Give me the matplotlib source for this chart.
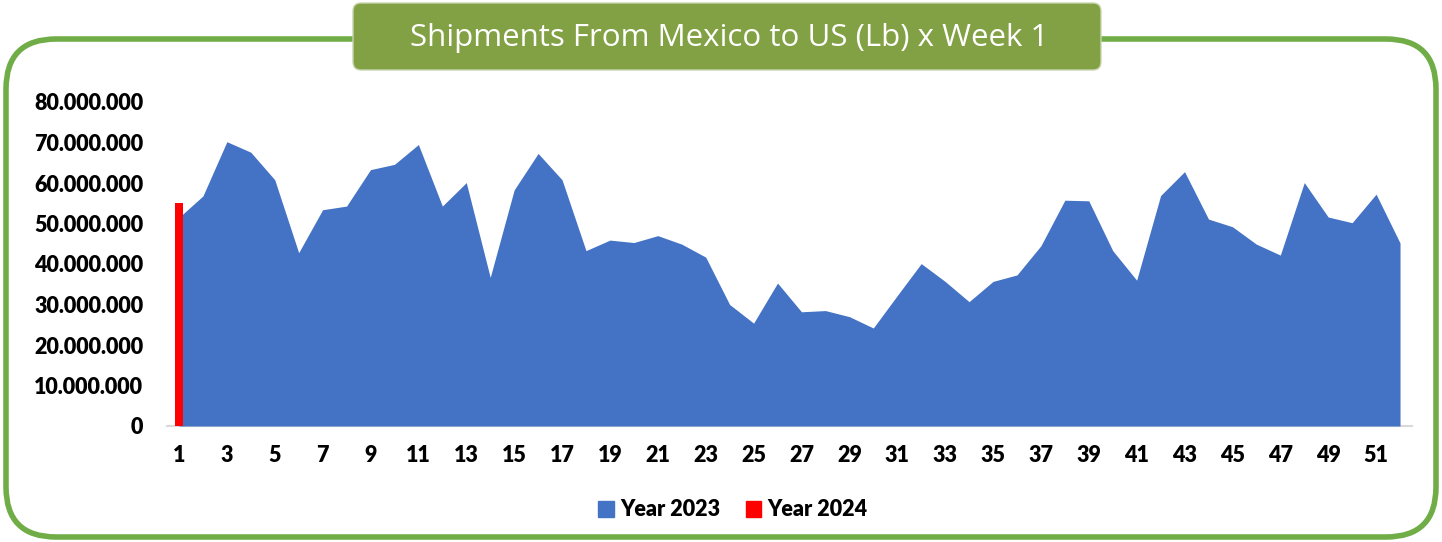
import matplotlib
matplotlib.use('Agg')
import matplotlib.pyplot as plt
from matplotlib.patches import FancyBboxPatch, Patch
from matplotlib.ticker import FuncFormatter

# Weekly shipments (Lb)
weeks = list(range(1, 53))
year_2023 = [51.5, 56.8, 70.2, 67.6, 60.8, 42.8, 53.4, 54.3, 63.3, 64.6,
             69.5, 54.3, 60.1, 36.7, 58.3, 67.3, 60.8, 43.3, 45.9, 45.3,
             47.0, 44.9, 41.7, 30.0, 25.4, 35.3, 28.2, 28.5, 27.0, 24.2,
             32.2, 40.1, 35.7, 30.7, 35.7, 37.3, 44.5, 55.75, 55.6, 43.3,
             36.0, 56.9, 62.8, 51.1, 49.2, 44.9, 42.2, 60.1, 51.6, 50.2,
             57.25, 45.2]
year_2023 = [v * 1e6 for v in year_2023]
weeks_2024 = [1]
year_2024 = [55.1e6]
tick_weeks = list(range(1, 52, 2))
y_ticks = [0, 10e6, 20e6, 30e6, 40e6, 50e6, 60e6, 70e6, 80e6]

title = 'Shipments From Mexico to US (Lb) x Week 1'
blue = '#4472C4'
red = '#FF0000'
green = '#70AD47'
title_green = '#82A044'

W, H = 1442, 542
fig = plt.figure(figsize=(W / 100, H / 100), dpi=100)

# background frame in pixel coordinates
bg = fig.add_axes([0, 0, 1, 1], zorder=0)
bg.set_xlim(0, W)
bg.set_ylim(H, 0)
bg.axis('off')
frame = FancyBboxPatch((6, 39), W - 12, H - 44, boxstyle='round,pad=0,rounding_size=50',
                       fill=False, edgecolor=green, linewidth=4)
bg.add_patch(frame)
title_box = FancyBboxPatch((353, 3), 748, 67, boxstyle='round,pad=0,rounding_size=8',
                           facecolor=title_green, edgecolor='#C9D6B0', linewidth=1)
bg.add_patch(title_box)
bg.text(729, 38, title, color='white', fontsize=22.5, family=['Open Sans', 'DejaVu Sans'],
        ha='center', va='center')

# chart
ax = fig.add_axes([167 / W, 1 - 426 / H, (1412 - 167) / W, (426 - 102) / H], zorder=1)
ax.patch.set_alpha(0)
ax.fill_between(weeks, 0, year_2023, color=blue, linewidth=0, zorder=2)
ax.bar(weeks_2024, year_2024, width=0.34, color=red, zorder=3)

ax.set_xlim(0.5, 52.5)
ax.set_ylim(0, 80e6)
ax.set_xticks(tick_weeks)
ax.set_yticks(y_ticks)
ax.yaxis.set_major_formatter(FuncFormatter(lambda v, p: '{:,.0f}'.format(v).replace(',', '.')))

font = ['Lato', 'DejaVu Sans']
for lab in ax.get_xticklabels() + ax.get_yticklabels():
    lab.set_family(font)
    lab.set_fontweight('heavy')
    lab.set_fontsize(15.5)
ax.tick_params(axis='both', length=0)
ax.tick_params(axis='y', pad=17)
ax.tick_params(axis='x', pad=14)

for s in ['top', 'right', 'left']:
    ax.spines[s].set_visible(False)
ax.spines['bottom'].set_color('#D9D9D9')
ax.spines['bottom'].set_linewidth(1.5)
ax.spines['bottom'].set_zorder(1)

handles = [Patch(color=blue, label='Year 2023'), Patch(color=red, label='Year 2024')]
fig.legend(handles=handles, loc='center', bbox_to_anchor=(733 / W, 1 - 510 / H), ncol=2,
           frameon=False, handlelength=0.7, handleheight=0.8, handletextpad=0.3,
           columnspacing=1.2, prop={'family': font, 'weight': 'heavy', 'size': 15.5})

fig.savefig('out.png', dpi=100)
